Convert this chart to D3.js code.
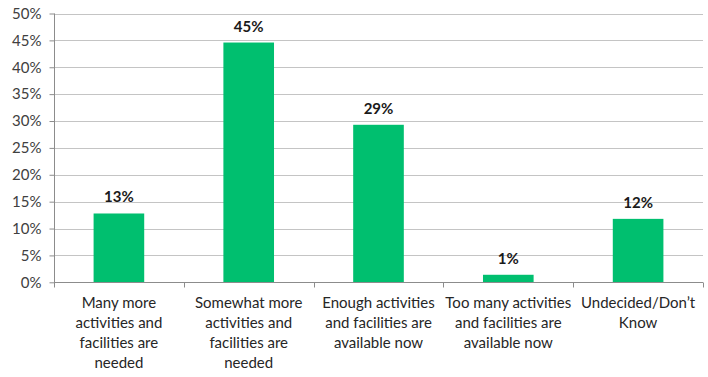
<!DOCTYPE html>
<html><head><meta charset="utf-8">
<script src="https://cdn.jsdelivr.net/npm/d3@7"></script>
<style>body{margin:0;background:#fff}svg{display:block}text{font-family:Lato,"Open Sans",sans-serif}</style>
</head><body>
<script>
const categories = [
  ["Many more", "activities and", "facilities are", "needed"],
  ["Somewhat more", "activities and", "facilities are", "needed"],
  ["Enough activities", "and facilities are", "available now"],
  ["Too many activities", "and facilities are", "available now"],
  ["Undecided/Don’t", "Know"]
];
const values = [12.8, 44.6, 29.3, 1.4, 11.8];
const valueLabels = ["13%", "45%", "29%", "1%", "12%"];
const yTicks = [0, 5, 10, 15, 20, 25, 30, 35, 40, 45, 50];

(function () {
const W = 708, H = 377;
const svg = d3.select("body").append("svg").attr("width", W).attr("height", H);
const pl = 54, pr = 703, pt = 13.5, pb = 282.3;
const x = d3.scaleBand().domain(d3.range(categories.length)).range([pl, pr]).paddingInner(0.61).paddingOuter(0.305);
const xb = d3.scaleBand().domain(d3.range(categories.length)).range([pl, pr]);
const y = d3.scaleLinear().domain([0, 50]).range([pb, pt]);

// grid
svg.append("g").selectAll("line").data(yTicks.filter(d => d > 0)).join("line")
  .attr("x1", pl).attr("x2", pr).attr("y1", d => Math.round(y(d)) + 0.5).attr("y2", d => Math.round(y(d)) + 0.5)
  .attr("stroke", "#c4c4c4").attr("stroke-width", 1);

// bars
svg.append("g").selectAll("rect").data(values).join("rect")
  .attr("x", (d, i) => x(i)).attr("width", x.bandwidth())
  .attr("y", d => y(d)).attr("height", d => y(0) - y(d))
  .attr("fill", "#00BF6F");

// y axis
const ya = svg.append("g").attr("transform", `translate(${pl + 0.5},0)`)
  .call(d3.axisLeft(y).tickValues(yTicks).tickFormat(d => d + "%").tickSize(5).tickPadding(8));
ya.select(".domain").attr("stroke", "#8c8c8c").attr("d", `M0,${pt}V${pb}`);
ya.selectAll(".tick line").attr("stroke", "#8c8c8c");
ya.selectAll(".tick text").attr("font-size", 15).attr("fill", "#404040").attr("font-family", "Lato, 'Open Sans', sans-serif");

// x axis
const xaxis = svg.append("g").attr("transform", `translate(0,${Math.round(pb) + 0.5})`);
xaxis.append("line").attr("x1", pl).attr("x2", pr).attr("stroke", "#8c8c8c");
xaxis.selectAll("line.t").data(d3.range(categories.length + 1)).join("line").attr("class", "t")
  .attr("x1", i => Math.round(i < categories.length ? xb(i) : pr) + 0.5)
  .attr("x2", i => Math.round(i < categories.length ? xb(i) : pr) + 0.5)
  .attr("y1", 0).attr("y2", 5).attr("stroke", "#8c8c8c");

const cl = svg.append("g").selectAll("text").data(categories).join("text")
  .attr("text-anchor", "middle").attr("font-size", 15).attr("fill", "#262626")
  .attr("transform", (d, i) => `translate(${xb(i) + xb.bandwidth() / 2},308)`);
cl.selectAll("tspan").data(d => d).join("tspan").attr("x", 0).attr("dy", (d, j) => j === 0 ? 0 : 20).text(d => d);

// value labels
svg.append("g").selectAll("text").data(values).join("text")
  .attr("x", (d, i) => x(i) + x.bandwidth() / 2).attr("y", d => y(d) - 11)
  .attr("text-anchor", "middle").attr("font-size", 15).attr("font-weight", "bold").attr("fill", "#1a1a1a")
  .text((d, i) => valueLabels[i]);
})();
</script>
</body></html>
